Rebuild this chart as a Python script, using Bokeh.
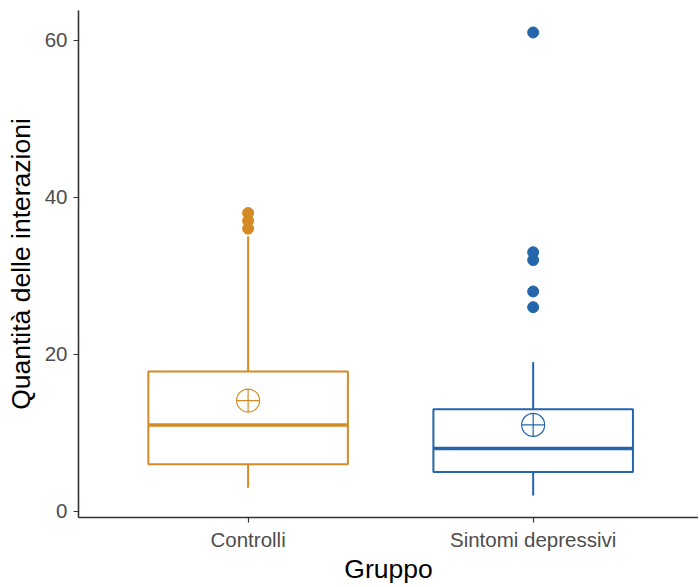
import numpy as np
from bokeh.plotting import figure
from bokeh.models import FixedTicker, Range1d
from bokeh.embed import file_html
from bokeh.resources import INLINE

categories = ["Controlli", "Sintomi depressivi"]
colors = ["#D68A25", "#2465AC"]
q1 = [6, 5]
median = [11, 8]
q3 = [17.8, 13]
whisker_low = [3, 2]
whisker_high = [35, 19]
means = [14.1, 11]
outliers = [[36, 37, 38], [26, 28, 32, 33, 61]]

xs = np.arange(1, len(categories) + 1)
bw = 0.7

p = figure(width=698, height=586, output_backend="svg", toolbar_location=None,
           x_range=Range1d(0.405, 2.58), y_range=Range1d(-0.8, 63.8),
           min_border_left=78, min_border_right=0, min_border_top=10, min_border_bottom=67)
p.outline_line_color = None
p.xgrid.grid_line_color = None
p.ygrid.grid_line_color = None
p.background_fill_color = "white"

for i, x in enumerate(xs):
    c = colors[i]
    p.segment(x0=[x, x], y0=[whisker_low[i], q3[i]], x1=[x, x], y1=[q1[i], whisker_high[i]],
              line_color=c, line_width=2)
    p.vbar(x=[x], width=bw, bottom=[q1[i]], top=[q3[i]], fill_color="white",
           line_color=c, line_width=2)
    p.segment(x0=[x - bw / 2], y0=[median[i]], x1=[x + bw / 2], y1=[median[i]],
              line_color=c, line_width=3.5)
    p.scatter(x=[x] * len(outliers[i]), y=outliers[i], size=11, fill_color=c,
              line_color=c, marker="circle")
    p.scatter(x=[x], y=[means[i]], marker="circle_cross", size=23, fill_color=None,
              line_color=c, line_width=1.2)

p.xaxis.ticker = FixedTicker(ticks=list(xs))
p.xaxis.major_label_overrides = {int(x): c for x, c in zip(xs, categories)}
p.yaxis.ticker = FixedTicker(ticks=[0, 20, 40, 60])
for ax in (p.xaxis, p.yaxis):
    ax.axis_line_color = "#333333"
    ax.axis_line_width = 1.6
    ax.major_tick_line_color = "#333333"
    ax.major_tick_line_width = 1.2
    ax.major_tick_out = 5
    ax.major_tick_in = 0
    ax.minor_tick_line_color = None
    ax.major_label_text_color = "#4D4D4D"
    ax.major_label_text_font = "Liberation Sans"
    ax.major_label_text_font_size = "20.5px"
    ax.axis_label_text_font = "Liberation Sans"
    ax.axis_label_text_font_size = "26.5px"
    ax.axis_label_text_font_style = "normal"
    ax.axis_label_text_color = "black"
p.xaxis.axis_label = "Gruppo"
p.yaxis.axis_label = "Quantità delle interazioni"
p.xaxis.major_label_standoff = 5
p.yaxis.major_label_standoff = 6
p.xaxis.axis_label_standoff = 0
p.yaxis.axis_label_standoff = 6

open("out.html", "w").write(file_html(p, INLINE))
